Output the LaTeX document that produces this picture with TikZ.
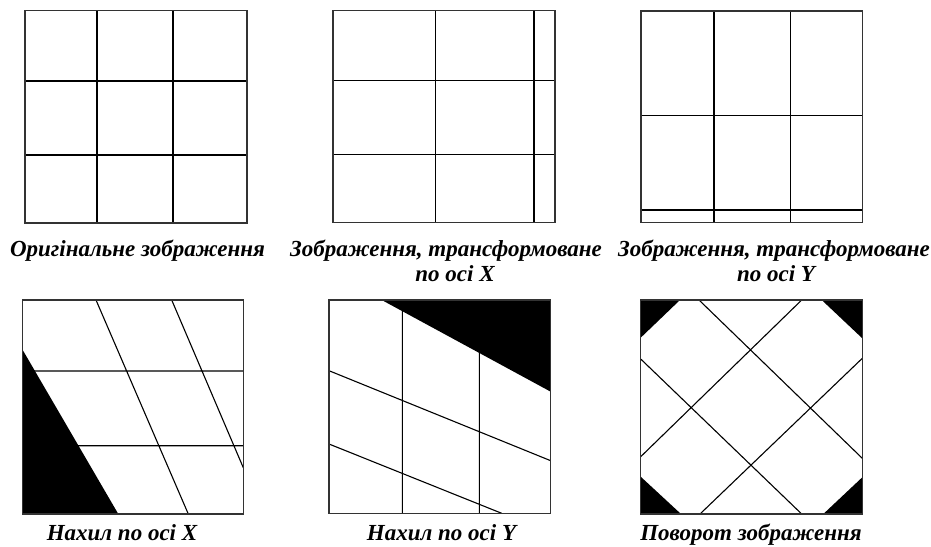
\documentclass[tikz,border=0pt]{standalone}
\usepackage{fontspec}
\setmainfont{Liberation Serif}
\tikzset{
  frame/.style={draw=black!80, line width=1.3pt},
  gridline/.style={draw=black, line width=1.1pt},
  shade/.style={fill=black, draw=none},
  caption/.style={anchor=base, inner sep=0pt, font=\fontsize{23}{26}\selectfont\bfseries\itshape}
}
\newcommand{\pframe}[2]{\draw[frame] (#1) rectangle (#2);}

\begin{document}
\begin{tikzpicture}[x=1pt, y=-1pt]
  \useasboundingbox (0,0) rectangle (931,546);
  % top row
  \draw[gridline] (97,10.7) -- (97,223) (173,10.7) -- (173,223)
                  (25,81) -- (247,81) (25,155) -- (247,155);
  \pframe{25,10.7}{247,223}
  \draw[gridline] (435.7,10.3) -- (435.7,222.7) (534,10.3) -- (534,222.7)
                  (333,80.7) -- (555,80.7) (333,154.3) -- (555,154.3);
  \pframe{333,10.3}{555,222.7}
  \draw[gridline] (714,11) -- (714,222.7) (790.7,11) -- (790.7,222.7)
                  (641,115.7) -- (862.7,115.7) (641,210) -- (862.7,210);
  \pframe{641,11}{862.7,222.7}
  \node[caption] (cap1)  at (137.5,256.7) {Оригінальне зображення};
  \node[caption] (cap2a) at (446,256.7) {Зображення, трансформоване};
  \node[caption] (cap2b) at (455,281.7) {по осі X};
  \node[caption] (cap3a) at (774,256.7) {Зображення, трансформоване};
  \node[caption] (cap3b) at (776,281.7) {по осі Y};
  % bottom row
  \draw[gridline] (22.7,371) -- (243.3,371) (22.7,445.7) -- (243.3,445.7)
                  (96,300) -- (188.3,514) (171.7,300) -- (243.3,467.7);
  \fill[shade] (22.7,350) -- (22.7,514) -- (118.3,514) -- cycle;
  \pframe{22.7,300}{243.3,514}
  \draw[gridline] (402.3,300) -- (402.3,513.3) (479.3,300) -- (479.3,513.3)
                  (329,370.7) -- (550.7,460.7) (329,444) -- (501.7,513.3);
  \fill[shade] (381.7,300) -- (550.7,300) -- (550.7,391.7) -- cycle;
  \pframe{329,300}{550.7,513.3}
  \draw[gridline] (699,300) -- (862.3,458.3) (640.7,359) -- (801.7,514)
                  (640.7,456.7) -- (801.7,300) (700,514) -- (862.3,358.3);
  \fill[shade] (640.7,300) -- (680,300) -- (640.7,337.7) -- cycle;
  \fill[shade] (821.7,300) -- (862.3,300) -- (862.3,338.3) -- cycle;
  \fill[shade] (640.7,476.7) -- (640.7,514) -- (681,514) -- cycle;
  \fill[shade] (823.3,514) -- (862.3,514) -- (862.3,477.3) -- cycle;
  \pframe{640.7,300}{862.3,514}
  \node[caption] (cap4) at (122,540.5) {Нахил по осі X};
  \node[caption] (cap5) at (441.5,540.5) {Нахил по осі Y};
  \node[caption] (cap6) at (751,540) {Поворот зображення};
\end{tikzpicture}
\end{document}
